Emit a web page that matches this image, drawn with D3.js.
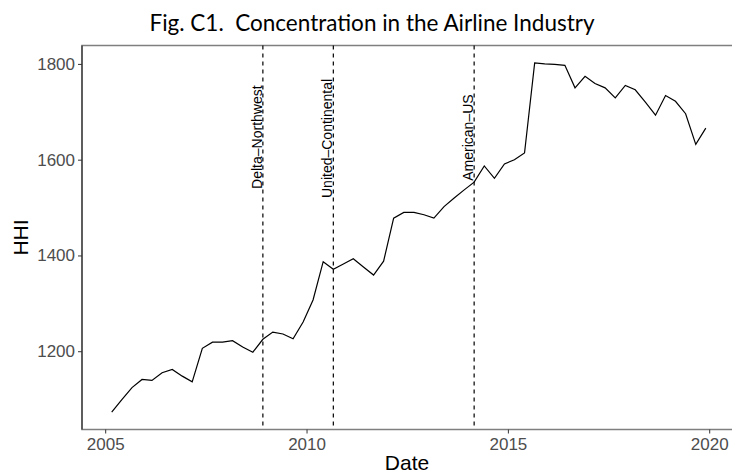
<!DOCTYPE html>
<html>
<head>
    <meta charset="utf-8">
    <title>Fig. C1 Concentration in the Airline Industry</title>
    <script src="https://d3js.org/d3.v7.min.js"></script>
    <style>
        body { margin: 0; background: #fff; }
    </style>
</head>
<body>
    <script type="text/javascript">

        // quarterly observations (first day of the last month of each quarter)
        var dates = [
            "2005-03-01", "2005-06-01", "2005-09-01", "2005-12-01",
            "2006-03-01", "2006-06-01", "2006-09-01", "2006-12-01",
            "2007-03-01", "2007-06-01", "2007-09-01", "2007-12-01",
            "2008-03-01", "2008-06-01", "2008-09-01", "2008-12-01",
            "2009-03-01", "2009-06-01", "2009-09-01", "2009-12-01",
            "2010-03-01", "2010-06-01", "2010-09-01", "2010-12-01",
            "2011-03-01", "2011-06-01", "2011-09-01", "2011-12-01",
            "2012-03-01", "2012-06-01", "2012-09-01", "2012-12-01",
            "2013-03-01", "2013-06-01", "2013-09-01", "2013-12-01",
            "2014-03-01", "2014-06-01", "2014-09-01", "2014-12-01",
            "2015-03-01", "2015-06-01", "2015-09-01", "2015-12-01",
            "2016-03-01", "2016-06-01", "2016-09-01", "2016-12-01",
            "2017-03-01", "2017-06-01", "2017-09-01", "2017-12-01",
            "2018-03-01", "2018-06-01", "2018-09-01", "2018-12-01",
            "2019-03-01", "2019-06-01", "2019-09-01", "2019-12-01"
        ];

        // HHI values
        var hhi = [
            1073, 1099, 1124, 1141, 1139, 1155, 1162, 1148,
            1136, 1206, 1219, 1219, 1222, 1209, 1198, 1225,
            1240, 1236, 1226, 1261, 1307, 1387, 1371, 1382,
            1393, 1376, 1359, 1388, 1478, 1490, 1490, 1485,
            1478, 1502, 1520, 1537, 1553, 1587, 1561, 1591,
            1600, 1614, 1802, 1800, 1799, 1797, 1750, 1774,
            1759, 1750, 1729, 1755, 1746, 1720, 1693, 1734,
            1722, 1696, 1632, 1666
        ];

        // mergers marked with dashed lines
        var mergerNames = ["Delta\u2013Northwest", "United\u2013Continental", "American\u2013US"];
        var mergerDates = ["2008-12-01", "2010-09-01", "2014-03-01"];
        var mergerLabelY = [1539, 1520, 1556]; // where each label starts

        var xTicks = [2005, 2010, 2015, 2020];
        var yTicks = [1200, 1400, 1600, 1800];

        var parseTime = d3.timeParse("%Y-%m-%d");
        var data = dates.map(function (d, i) { return { date: parseTime(d), value: hhi[i] }; });

        var width = 732, height = 473;
        var panel = { left: 82, right: 735.5, top: 45.5, bottom: 429.5 };
        var sans = "'Liberation Sans', Arial, sans-serif";

        // ggplot style 5% expansion of the data range
        var xExt = d3.extent(data, function (d) { return d.date; });
        var xPad = (xExt[1] - xExt[0]) * 0.05;
        var xScale = d3.scaleTime()
            .domain([new Date(+xExt[0] - xPad), new Date(+xExt[1] + xPad)])
            .range([panel.left, panel.right]);

        var yExt = d3.extent(hhi);
        var yPad = (yExt[1] - yExt[0]) * 0.05;
        var yScale = d3.scaleLinear()
            .domain([yExt[0] - yPad, yExt[1] + yPad])
            .range([panel.bottom, panel.top]);

        var svg = d3.select("body")
            .append("svg")
            .attr("width", width)
            .attr("height", height)
            .style("font-family", sans);

        // panel border
        svg.append("rect")
            .attr("x", panel.left)
            .attr("y", panel.top)
            .attr("width", panel.right - panel.left)
            .attr("height", panel.bottom - panel.top)
            .attr("fill", "none")
            .attr("stroke", "#7f7f7f")
            .attr("stroke-width", 1.5);

        //Adding X-axis
        var xAxis = d3.axisBottom(xScale)
            .tickValues(xTicks.map(function (y) { return new Date(y, 0, 1); }))
            .tickFormat(d3.timeFormat("%Y"))
            .tickSizeInner(4)
            .tickSizeOuter(0)
            .tickPadding(4);

        var gx = svg.append("g")
            .attr("transform", "translate(0," + panel.bottom + ")")
            .attr("font-family", sans)
            .call(xAxis);
        gx.select(".domain").remove();
        gx.selectAll(".tick line").attr("stroke", "#333").attr("stroke-width", 1);
        gx.selectAll(".tick text")
            .attr("fill", "#4d4d4d")
            .style("font-size", "17px")
            .style("font-family", sans);

        //Adding Y-axis
        var yAxis = d3.axisLeft(yScale)
            .tickValues(yTicks)
            .tickFormat(d3.format("d"))
            .tickSizeInner(4)
            .tickSizeOuter(0)
            .tickPadding(3);

        var gy = svg.append("g")
            .attr("transform", "translate(" + panel.left + ",0)")
            .attr("font-family", sans)
            .call(yAxis);
        gy.select(".domain").remove();
        gy.selectAll(".tick line").attr("stroke", "#333").attr("stroke-width", 1);
        gy.selectAll(".tick text")
            .attr("fill", "#4d4d4d")
            .style("font-size", "17px")
            .style("font-family", sans);

        // dark left axis line
        svg.append("line")
            .attr("x1", panel.left).attr("x2", panel.left)
            .attr("y1", panel.top).attr("y2", panel.bottom)
            .attr("stroke", "#333")
            .attr("stroke-width", 1.2);

        // merger lines and labels
        mergerDates.forEach(function (d, i) {
            var x = xScale(parseTime(d));
            svg.append("line")
                .attr("x1", x).attr("x2", x)
                .attr("y1", panel.top).attr("y2", panel.bottom)
                .attr("stroke", "#000")
                .attr("stroke-width", 1.2)
                .attr("stroke-dasharray", "4,4");

            svg.append("text")
                .attr("transform", "translate(" + (x - 1) + "," + yScale(mergerLabelY[i]) + ") rotate(-90)")
                .style("font-size", "14px")
                .attr("fill", "#000")
                .text(mergerNames[i]);
        });

        // HHI line
        var line = d3.line()
            .x(function (d) { return xScale(d.date); })
            .y(function (d) { return yScale(d.value); });

        svg.append("path")
            .attr("d", line(data))
            .attr("stroke", "#000")
            .attr("stroke-width", 1.2)
            .attr("fill", "none");

        // axis titles
        svg.append("text")
            .attr("x", (panel.left + width) / 2)
            .attr("y", 470)
            .attr("text-anchor", "middle")
            .style("font-size", "21px")
            .text("Date");

        svg.append("text")
            .attr("transform", "translate(28," + ((panel.top + panel.bottom) / 2) + ") rotate(-90)")
            .attr("text-anchor", "middle")
            .style("font-size", "21px")
            .text("HHI");

        // Chart title
        svg.append("text")
            .attr("x", 372)
            .attr("y", 31)
            .attr("text-anchor", "middle")
            .style("font-family", "Lato, 'Open Sans', sans-serif")
            .style("font-size", "22.5px")
            .text("Fig. C1.\u00a0 Concentration in the Airline Industry");

    </script>
</body>
</html>
